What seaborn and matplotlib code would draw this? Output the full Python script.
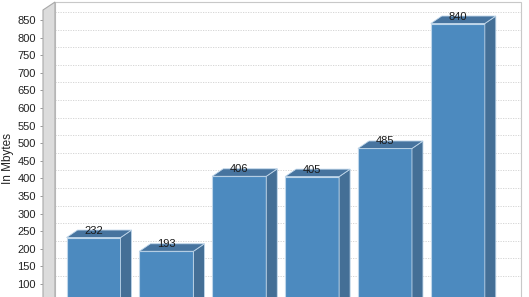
import matplotlib
matplotlib.use("Agg")
import matplotlib.pyplot as plt
import matplotlib.transforms as mtransforms
from matplotlib.patches import Polygon, Rectangle
import seaborn as sns
import pandas as pd

# ---- data ----
categories = ["1", "2", "3", "4", "5", "6"]
values = [232, 193, 406, 405, 485, 840]
yticks = list(range(100, 851, 50))
ylabel = "In Mbytes"

# ---- style ----
FRONT = "#4C8ABF"
SIDE = "#446F96"
TOP = "#47749F"
EDGE = "#BFD6EA"
DX, DY = 11, 7.5  # 3D depth offset in pixels

W, H = 529, 297
sns.set_theme(style="white")
plt.rcParams["font.family"] = ["Liberation Sans", "DejaVu Sans"]

fig = plt.figure(figsize=(W / 100, H / 100), dpi=100)
fig.patch.set_facecolor("white")

FX0, FX1, FYT = 43, 509, 10
ax = fig.add_axes([FX0 / W, 0, (FX1 - FX0) / W, (H - FYT) / H])
ax.patch.set_alpha(0)

df = pd.DataFrame({"cat": categories, "val": values})
sns.barplot(data=df, x="cat", y="val", width=0.742, color=FRONT, saturation=1,
            edgecolor=EDGE, linewidth=0.8, ax=ax, zorder=3)
bars = list(ax.patches)

ax.set_xlim(-0.694, 5.703)
ax.set_ylim(63.1, 878.4)
ax.set_yticks(yticks)
ax.set_xticks([])
ax.set_xlabel("")
ax.set_ylabel("")
for s in ax.spines.values():
    s.set_visible(False)
ax.tick_params(axis="y", left=True, length=2.5, width=0.6, color="#888888",
               labelsize=8, pad=2.5, labelcolor="#222222")

shift = mtransforms.ScaledTranslation(12 / 100, 8 / 100, fig.dpi_scale_trans)
back = mtransforms.blended_transform_factory(ax.transAxes, ax.transData) + shift

# back wall
ax.add_patch(Rectangle((0, -0.2), 1, 1.2, transform=ax.transAxes + shift,
                       facecolor="white", edgecolor="#C8C8C8", lw=0.8,
                       clip_on=False, zorder=0))
# gridlines on back wall
for t in yticks:
    ax.plot([0, 1], [t, t], transform=back, color="#D0D0D0", lw=0.6,
            ls=(0, (1.5, 1.5)), clip_on=False, zorder=0.5)

# left side wall
fig.canvas.draw()
bb = ax.bbox
wall = [(bb.x0, bb.y0 - 20), (bb.x0, bb.y1), (bb.x0 + 12, bb.y1 + 8), (bb.x0 + 12, bb.y0 - 20)]
ax.add_patch(Polygon(wall, closed=True, transform=mtransforms.IdentityTransform(),
                     facecolor="#DCDCDC", edgecolor="#A8A8A8", lw=0.8,
                     clip_on=False, zorder=1))

# 3D faces for bars
inv = ax.transData.inverted()
for p in bars:
    x0, y0, w, h = p.get_x(), p.get_y(), p.get_width(), p.get_height()
    (dx0, dy0), (dx1, dy1) = ax.transData.transform([(x0, y0), (x0 + w, y0 + h)])
    side = [(dx1, dy0), (dx1 + DX, dy0 + DY), (dx1 + DX, dy1 + DY), (dx1, dy1)]
    top = [(dx0, dy1), (dx1, dy1), (dx1 + DX, dy1 + DY), (dx0 + DX, dy1 + DY)]
    ax.add_patch(Polygon(inv.transform(side), closed=True, transform=ax.transData,
                         facecolor=SIDE, edgecolor=EDGE, lw=0.6, zorder=3, clip_on=False))
    ax.add_patch(Polygon(inv.transform(top), closed=True, transform=ax.transData,
                         facecolor=TOP, edgecolor=EDGE, lw=0.6, zorder=3, clip_on=False))

# value labels
lab = ax.transData + mtransforms.ScaledTranslation(0, 7 / 100, fig.dpi_scale_trans)
for i, v in enumerate(values):
    ax.text(i, v, str(v), transform=lab, ha="center", va="center",
            fontsize=8, color="#1a1a1a", zorder=5)

fig.text(8 / W, 1 - 159 / H, ylabel, rotation=90, ha="center", va="center",
         fontsize=8.5, color="#222222")

fig.savefig("out.png", dpi=100, facecolor="white")
